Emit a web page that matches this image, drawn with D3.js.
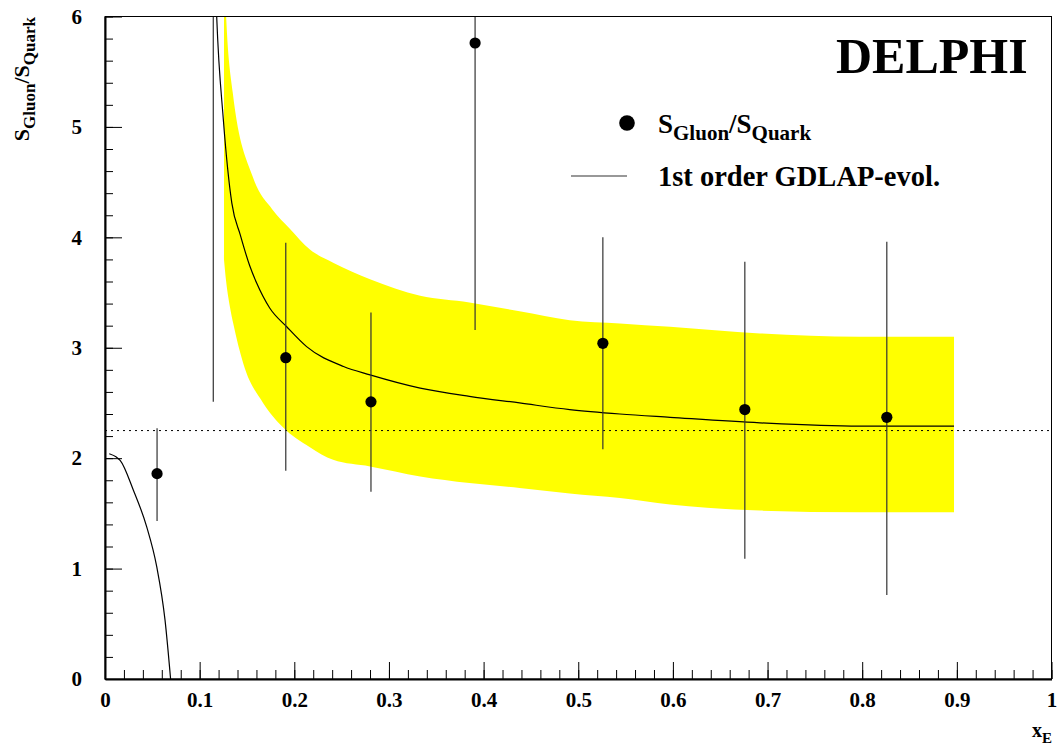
<!DOCTYPE html>
<html>
<head>
<meta charset="utf-8">
<script src="https://cdn.jsdelivr.net/npm/d3@7"></script>
<style>
  body { margin: 0; background: #fff; }
  svg { display: block; font-family: "Liberation Serif", Tinos, "Times New Roman", Times, "Nimbus Roman", "DejaVu Serif", serif; font-weight: bold; }
  .axis text { font-size: 21px; font-weight: bold; font-family: "Liberation Serif", Tinos, "Times New Roman", Times, "Nimbus Roman", "DejaVu Serif", serif; fill: #000; }
  .axis path, .axis line { stroke: #000; }
</style>
</head>
<body>
<svg id="chart"></svg>
<script>
// measured points: x_E, S_Gluon/S_Quark and error bar ends
const xE = [0.055, 0.1144, 0.191, 0.281, 0.391, 0.526, 0.676, 0.826];
const ratio = [1.86, 8.0, 2.91, 2.51, 5.76, 3.04, 2.44, 2.37];
const errLo = [1.43, 2.51, 1.885, 1.695, 3.16, 2.08, 1.09, 0.76];
const errHi = [2.27, 13.5, 3.95, 3.32, 8.36, 4.0, 3.78, 3.96];

// 1st order GDLAP evolution, low-x branch
const evolLowX = [0.0045, 0.012, 0.016, 0.03, 0.044, 0.0546, 0.0634, 0.0693];
const evolLowY = [2.04, 2.01, 1.98, 1.71, 1.38, 1.02, 0.535, 0.0];

// 1st order GDLAP evolution, main branch
const evolX = [0.116, 0.118, 0.125, 0.134, 0.143, 0.153, 0.160, 0.174, 0.192, 0.213, 0.252, 0.280, 0.333, 0.385, 0.438, 0.491, 0.544, 0.597, 0.692, 0.797, 0.897];
const evolY = [6.5, 6.0, 5.07, 4.31, 4.02, 3.74, 3.59, 3.36, 3.19, 3.01, 2.83, 2.755, 2.635, 2.56, 2.50, 2.44, 2.40, 2.37, 2.32, 2.29, 2.29];

// uncertainty band
const bandUpX = [0.1257, 0.128, 0.135, 0.156, 0.177, 0.195, 0.2165, 0.241, 0.280, 0.333, 0.385, 0.438, 0.491, 0.544, 0.597, 0.692, 0.797, 0.897];
const bandUpY = [6.5, 6.0, 5.31, 4.55, 4.25, 4.08, 3.89, 3.77, 3.62, 3.47, 3.41, 3.33, 3.25, 3.22, 3.19, 3.13, 3.10, 3.10];
const bandLoX = [0.1257, 0.128, 0.132, 0.1355, 0.146, 0.167, 0.188, 0.2165, 0.241, 0.280, 0.333, 0.385, 0.438, 0.491, 0.544, 0.597, 0.692, 0.797, 0.897];
const bandLoY = [3.8, 3.6, 3.37, 3.22, 2.86, 2.50, 2.28, 2.10, 1.985, 1.925, 1.835, 1.775, 1.73, 1.68, 1.64, 1.58, 1.525, 1.51, 1.51];

const refLevel = 2.25;

const xTicks = [0, 0.1, 0.2, 0.3, 0.4, 0.5, 0.6, 0.7, 0.8, 0.9, 1];
const yTicks = [0, 1, 2, 3, 4, 5, 6];

const W = 1061, H = 749;
const m = {left: 105, right: 1051.5, top: 16.5, bottom: 679};

const svg = d3.select('#chart').attr('width', W).attr('height', H);

const x = d3.scaleLinear().domain([0, 1]).range([m.left, m.right]);
const y = d3.scaleLinear().domain([0, 6]).range([m.bottom, m.top]);

svg.append('clipPath').attr('id', 'clip')
  .append('rect')
  .attr('x', m.left).attr('y', m.top)
  .attr('width', m.right - m.left).attr('height', m.bottom - m.top);

const plot = svg.append('g').attr('clip-path', 'url(#clip)');

const line = d3.line().x(d => x(d[0])).y(d => y(d[1])).curve(d3.curveMonotoneX);

// yellow band: upper edge forward, lower edge back
const upPts = bandUpX.map((d, i) => [d, bandUpY[i]]);
const loPts = bandLoX.map((d, i) => [d, bandLoY[i]]).reverse();
plot.append('path')
  .attr('d', line(upPts) + 'L' + line(loPts).slice(1) + 'Z')
  .attr('fill', '#ffff00');

// dotted reference line
plot.append('line')
  .attr('x1', x(0)).attr('x2', x(1))
  .attr('y1', y(refLevel)).attr('y2', y(refLevel))
  .attr('stroke', '#000').attr('stroke-width', 1)
  .attr('stroke-dasharray', '2,4');

plot.append('path')
  .attr('d', line(evolLowX.map((d, i) => [d, evolLowY[i]])))
  .attr('fill', 'none').attr('stroke', '#000').attr('stroke-width', 1.2);
plot.append('path')
  .attr('d', line(evolX.map((d, i) => [d, evolY[i]])))
  .attr('fill', 'none').attr('stroke', '#000').attr('stroke-width', 1.2);

// error bars and points
const pts = xE.map((d, i) => ({x: d, y: ratio[i], lo: errLo[i], hi: errHi[i]}));
plot.selectAll('.err')
  .data(pts)
  .join('line')
    .attr('class', 'err')
    .attr('x1', d => x(d.x)).attr('x2', d => x(d.x))
    .attr('y1', d => y(d.lo)).attr('y2', d => y(d.hi))
    .attr('stroke', '#333').attr('stroke-width', 1.2);
plot.selectAll('.pt')
  .data(pts)
  .join('circle')
    .attr('class', 'pt')
    .attr('cx', d => x(d.x)).attr('cy', d => y(d.y))
    .attr('r', 5.6)
    .attr('fill', '#000');

// frame
svg.append('rect')
  .attr('x', m.left).attr('y', m.top)
  .attr('width', m.right - m.left).attr('height', m.bottom - m.top)
  .attr('fill', 'none').attr('stroke', '#000').attr('stroke-width', 1);

// axes: major + minor ticks pointing inward
const xMinor = d3.range(0, 1.0001, 0.02);
const yMinor = d3.range(0, 6.0001, 0.2);

svg.append('g').attr('class', 'axis')
  .attr('transform', `translate(0,${m.bottom})`)
  .call(d3.axisBottom(x).tickValues(xMinor).tickSize(-9).tickFormat('').tickSizeOuter(0))
  .call(g => g.select('.domain').remove());
svg.append('g').attr('class', 'axis')
  .attr('transform', `translate(0,${m.bottom})`)
  .call(d3.axisBottom(x).tickValues(xTicks).tickSize(-17).tickSizeOuter(0)
    .tickPadding(13).tickFormat(d => d === 0 || d === 1 ? d3.format('d')(d) : d3.format('.1f')(d)))
  .call(g => g.select('.domain').attr('stroke-width', 2));

svg.append('g').attr('class', 'axis')
  .attr('transform', `translate(${m.left},0)`)
  .call(d3.axisLeft(y).tickValues(yMinor).tickSize(-8).tickFormat('').tickSizeOuter(0))
  .call(g => g.select('.domain').remove());
svg.append('g').attr('class', 'axis')
  .attr('transform', `translate(${m.left},0)`)
  .call(d3.axisLeft(y).tickValues(yTicks).tickSize(-17).tickSizeOuter(0)
    .tickPadding(23).tickFormat(d3.format('d')))
  .call(g => g.select('.domain').attr('stroke-width', 2));

// axis titles
const yTitle = svg.append('text')
  .attr('transform', 'translate(29,17) rotate(-90)')
  .attr('text-anchor', 'end')
  .style('font-size', '22px');
yTitle.append('tspan').text('S');
yTitle.append('tspan').attr('dy', 6).style('font-size', '17px').text('Gluon');
yTitle.append('tspan').attr('dy', -6).text('/S');
yTitle.append('tspan').attr('dy', 6).style('font-size', '17px').text('Quark');

const xTitle = svg.append('text')
  .attr('x', 1032).attr('y', 737)
  .style('font-size', '20px');
xTitle.append('tspan').text('x');
xTitle.append('tspan').attr('dy', 6).style('font-size', '15px').text('E');

// DELPHI label
svg.append('text')
  .attr('x', 836).attr('y', 72.5)
  .style('font-size', '50px')
  .text('DELPHI');

// legend
svg.append('circle').attr('cx', 627).attr('cy', 123).attr('r', 7.8).attr('fill', '#000');
const leg1 = svg.append('text').attr('x', 658).attr('y', 133).style('font-size', '27px');
leg1.append('tspan').text('S');
leg1.append('tspan').attr('dy', 7).style('font-size', '21px').text('Gluon');
leg1.append('tspan').attr('dy', -7).text('/S');
leg1.append('tspan').attr('dy', 7).style('font-size', '21px').text('Quark');

svg.append('line')
  .attr('x1', 571).attr('x2', 627).attr('y1', 176).attr('y2', 176)
  .attr('stroke', '#333').attr('stroke-width', 1.2);
svg.append('text').attr('x', 658).attr('y', 186)
  .style('font-size', '28.5px')
  .text('1st order GDLAP-evol.');
</script>
</body>
</html>
